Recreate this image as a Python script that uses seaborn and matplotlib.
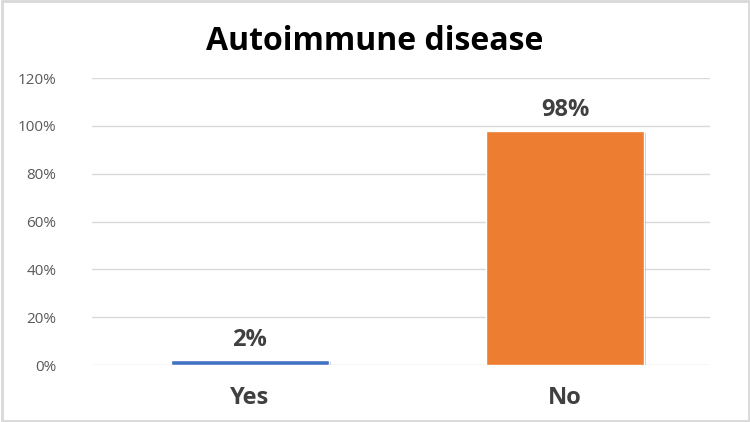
import seaborn as sns
import matplotlib.pyplot as plt
import matplotlib.patheffects as pe
import pandas as pd
from matplotlib.patches import Rectangle

# Data
categories = ['Yes', 'No']
values = [2, 98]
colors = ['#4472C4', '#ED7D31']

df = pd.DataFrame({'answer': categories, 'pct': values})

sns.set_style('white')
plt.rcParams['font.family'] = ['Open Sans', 'DejaVu Sans']

fig = plt.figure(figsize=(7.5, 4.22), dpi=100)
ax = fig.add_axes([0.123, 0.135, 0.824, 0.68])

sns.barplot(data=df, x='answer', y='pct', hue='answer', palette=colors,
            width=0.5, saturation=1, legend=False, ax=ax, zorder=3)

# soft shadow like the office chart
for bar in ax.patches:
    bar.set_path_effects([pe.SimplePatchShadow(offset=(1.5, -1.5), alpha=0.25), pe.Normal()])

# data labels
for bar, v in zip(ax.patches, values):
    ax.text(bar.get_x() + bar.get_width() / 2, v + 3.5, f'{v}%',
            ha='center', va='bottom', fontsize=17, fontweight='bold', color='#404040')

ax.set_ylim(0, 120)
ax.set_xlim(-0.5, 1.46)
ax.set_yticks(range(0, 121, 20))
ax.set_yticklabels([f'{t}%' for t in range(0, 121, 20)], color='#595959', fontsize=11)
ax.tick_params(axis='x', labelsize=17, colors='#404040', length=0, pad=15)
ax.tick_params(axis='y', length=0, pad=26)
for lbl in ax.get_xticklabels():
    lbl.set_fontweight('bold')
ax.yaxis.grid(True, color='#D9D9D9', linewidth=1)
ax.set_axisbelow(True)
for s in ax.spines.values():
    s.set_visible(False)
ax.set_xlabel('')
ax.set_ylabel('')

fig.suptitle('Autoimmune disease', fontsize=23, fontweight='bold', y=0.94, color='black')

# light border around the chart area
fig.patches.append(Rectangle((0.002, 0.003), 0.996, 0.994, transform=fig.transFigure,
                             fill=False, edgecolor='#D9D9D9', linewidth=2))

fig.savefig('out.png', dpi=100)
